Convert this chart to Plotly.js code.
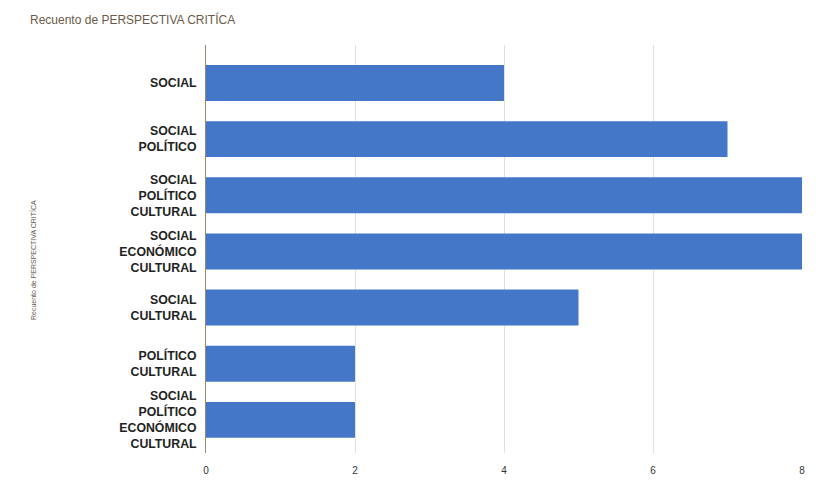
<!DOCTYPE html>
<html>
<head>
<meta charset="utf-8">
<script src="https://cdn.plot.ly/plotly-3.0.1.min.js"></script>
<style>html,body{margin:0;padding:0;background:#fff;}#chart{width:825px;height:498px;}</style>
</head>
<body>
<div id="chart"></div>
<script>
const categories = [
  "SOCIAL",
  "SOCIAL<br>POLÍTICO",
  "SOCIAL<br>POLÍTICO<br>CULTURAL",
  "SOCIAL<br>ECONÓMICO<br>CULTURAL",
  "SOCIAL<br>CULTURAL",
  "POLÍTICO<br>CULTURAL",
  "SOCIAL<br>POLÍTICO<br>ECONÓMICO<br>CULTURAL"
];
const counts = [4, 7, 8, 8, 5, 2, 2];
const xTicks = [0, 2, 4, 6, 8];
const chartTitle = 'Recuento de PERSPECTIVA CRITÍCA';
const yTitle = 'Recuento de PERSPECTIVA CRITÍCA';

const trace = {
  type: 'bar',
  orientation: 'h',
  y: categories,
  x: counts,
  marker: {color: '#4577c9'},
  hoverinfo: 'x+y'
};

const layout = {
  width: 825, height: 498,
  margin: {l: 206, r: 23, t: 45, b: 45},
  paper_bgcolor: '#ffffff',
  plot_bgcolor: '#ffffff',
  bargap: 0.36,
  showlegend: false,
  font: {family: 'Liberation Sans, Arial, sans-serif', color: '#222'},
  title: {
    text: chartTitle,
    x: 30/825, xanchor: 'left', y: 1 - 20/498, yanchor: 'middle',
    font: {size: 12, color: '#6b5a48', family: 'Liberation Sans, Arial, sans-serif'}
  },
  xaxis: {
    range: [0, 8],
    tickvals: xTicks,
    ticktext: xTicks.map(String),
    showgrid: true,
    gridcolor: '#e6dfd6',
    zeroline: false,
    showline: false,
    ticks: '',
    ticklabelstandoff: 10,
    tickfont: {size: 10, color: '#333'},
    fixedrange: true
  },
  yaxis: {
    categoryorder: 'array',
    categoryarray: categories,
    range: [6.59, -0.677],
    showgrid: false,
    zeroline: false,
    showline: true,
    linecolor: '#9a8670',
    linewidth: 1,
    ticks: '',
    ticklabelstandoff: 6,
    tickfont: {size: 12.3, color: '#222', family: 'Liberation Sans, Arial, sans-serif', weight: 'bold'},
    fixedrange: true
  },
  annotations: [{
    text: yTitle,
    xref: 'paper', yref: 'paper',
    x: (33 - 206) / 596, y: 0.473,
    xanchor: 'center', yanchor: 'middle',
    textangle: -90,
    showarrow: false,
    font: {size: 7, color: '#6b5a48'}
  }]
};

Plotly.newPlot('chart', [trace], layout, {displayModeBar: false, staticPlot: true});
</script>
</body>
</html>
